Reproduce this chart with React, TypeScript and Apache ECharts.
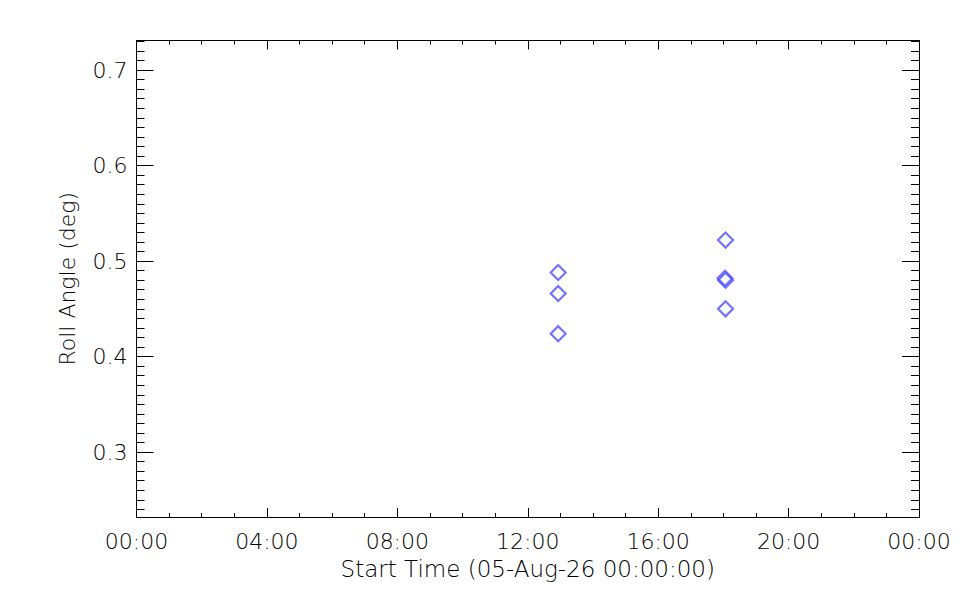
import React, { useEffect, useRef } from "react";
import * as echarts from "echarts";

const startTimes = ["12:56", "12:56", "12:56", "18:04", "18:03", "18:04", "18:04"];
const rollAngles = [0.488, 0.466, 0.424, 0.522, 0.482, 0.48, 0.45];
const xTickLabels = ["00:00", "04:00", "08:00", "12:00", "16:00", "20:00", "00:00"];
const yTickValues = [0.3, 0.4, 0.5, 0.6, 0.7];
const xRange = [0, 24];
const yRange = [0.232, 0.731];
const xTitle = "Start Time (05-Aug-26 00:00:00)";
const yTitle = "Roll Angle (deg)";

const FONT = "DejaVu Sans";
const toHours = (t: string) => {
  const [h, m] = t.split(":").map(Number);
  return h + m / 60;
};

// minor ticks every 0.01 inside the visible range
const yMinorTicks: number[] = [];
for (let k = Math.ceil(yRange[0] * 100 - 1e-9); k <= Math.floor(yRange[1] * 100 + 1e-9); k++) {
  yMinorTicks.push(Math.round(k) / 100);
}

export default function App() {
  const ref = useRef<HTMLDivElement>(null);
  useEffect(() => {
    if (!ref.current) return;
    const chart = echarts.init(ref.current, null, { renderer: "svg" });
    const line = { show: true, lineStyle: { color: "#000", width: 1 } };
    const label = { color: "#000", fontFamily: FONT, fontSize: 22, fontWeight: 200 as any };
    const xAxes: any[] = [
      {
        type: "value", position: "bottom", min: xRange[0], max: xRange[1], interval: 4,
        axisLine: line, splitLine: { show: false },
        axisTick: { show: true, inside: true, length: 9, lineStyle: { color: "#000" } },
        minorTick: { show: true, splitNumber: 4, length: 4, lineStyle: { color: "#000" } },
        axisLabel: { ...label, margin: 13, formatter: (v: number) => xTickLabels[Math.round(v / 4)] ?? "" },
        name: xTitle, nameLocation: "middle", nameGap: 40,
        nameTextStyle: { ...label, fontSize: 23 },
      },
      {
        type: "value", position: "top", min: xRange[0], max: xRange[1], interval: 4,
        axisLine: line, splitLine: { show: false },
        axisTick: { show: true, inside: true, length: 9, lineStyle: { color: "#000" } },
        minorTick: { show: true, splitNumber: 4, length: 4, lineStyle: { color: "#000" } },
        axisLabel: { show: false },
      },
    ];
    const yAxisBase = (pos: string, ticks: number[], len: number, labels: boolean, named: boolean) => ({
      type: "value", position: pos, min: yRange[0], max: yRange[1],
      axisLine: line, splitLine: { show: false },
      axisTick: { show: true, inside: true, length: len, customValues: ticks, lineStyle: { color: "#000" } },
      axisLabel: labels
        ? {
            ...label, margin: 9, customValues: ticks,
            formatter: (v: number) => v.toFixed(1),
          }
        : { show: false },
      ...(named
        ? { name: yTitle, nameLocation: "middle", nameGap: 58, nameRotate: 90, nameTextStyle: { ...label } }
        : {}),
    });
    const yAxes = [
      yAxisBase("left", yTickValues, 17, true, true),
      yAxisBase("left", yMinorTicks, 8, false, false),
      yAxisBase("right", yTickValues, 17, false, false),
      yAxisBase("right", yMinorTicks, 8, false, false),
    ];
    chart.setOption({
      animation: false,
      backgroundColor: "#fff",
      grid: { left: 136.5, right: 41, top: 40.5, bottom: 83, containLabel: false },
      xAxis: xAxes,
      yAxis: yAxes,
      series: [
        {
          type: "scatter",
          xAxisIndex: 0,
          yAxisIndex: 0,
          symbol: "diamond",
          symbolSize: 15,
          itemStyle: { color: "rgba(0,0,0,0)", borderColor: "#5050ff", borderWidth: 2.2 },
          data: startTimes.map((t, i) => [toHours(t), rollAngles[i]]),
        },
      ],
    });
    return () => chart.dispose();
  }, []);
  return (
    <div
      ref={ref}
      style={{ position: "fixed", left: 0, top: 0, width: 960, height: 600, background: "#fff" }}
    />
  );
}
